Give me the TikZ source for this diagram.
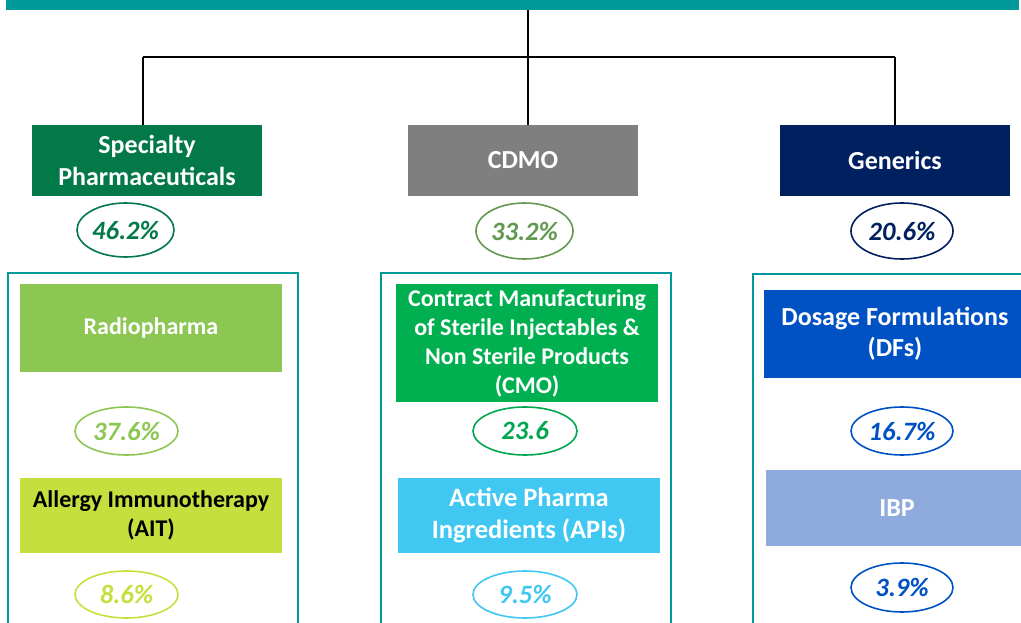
\documentclass[tikz,border=0pt]{standalone}
\usepackage{fontspec}
\setmainfont{Carlito}
\usetikzlibrary{shapes.geometric}
\definecolor{teal1}{HTML}{009999}
\definecolor{spec}{HTML}{037849}
\definecolor{cdmo}{HTML}{7F7F7F}
\definecolor{cdmot}{HTML}{629850}
\definecolor{gen}{HTML}{002060}
\definecolor{radio}{HTML}{8CC653}
\definecolor{ait}{HTML}{C5E03E}
\definecolor{cmo}{HTML}{00B050}
\definecolor{cmot}{HTML}{00A650}
\definecolor{api}{HTML}{40C8F2}
\definecolor{df}{HTML}{0052C4}
\definecolor{ibp}{HTML}{8FAADC}
\tikzset{
  box/.style={rectangle, inner sep=0pt, align=center, text=white,
    font=\fontsize{24}{29}\selectfont\bfseries},
  bigbox/.style={box, font=\fontsize{26}{31.5}\selectfont\bfseries},
  pct/.style={ellipse, draw=#1, text=#1, line width=1.6pt, inner sep=0pt,
    minimum width=100pt, minimum height=50pt,
    font=\fontsize{26.5}{28}\selectfont\bfseries\itshape},
  conn/.style={draw=black, line width=2pt},
  frame/.style={draw=teal1, line width=1.6pt}
}
\begin{document}
\begin{tikzpicture}[x=1pt,y=-1pt]
\useasboundingbox (0,0) rectangle (1021,623);
\clip (0,0) rectangle (1021,623);
% top bar
\node[rectangle, fill=teal1, inner sep=0pt, minimum width=1013pt, minimum height=10pt] (bar) at (512.5,5) {};
% top level
\node[bigbox, fill=spec, minimum width=230pt, minimum height=71pt, font=\fontsize{26}{32}\selectfont\bfseries] (sp) at (147,160.5) {Specialty\\Pharmaceuticals};
\node[bigbox, fill=cdmo, minimum width=230pt, minimum height=71pt] (cd) at (523,160.5) {CDMO};
\node[bigbox, fill=gen, minimum width=230pt, minimum height=71pt] (ge) at (895,160.5) {Generics};
% connectors
\coordinate (jm) at (528,57);
\coordinate (jl) at (143,57);
\coordinate (jr) at (895,57);
\draw[conn] (bar.south -| jm) -- (jm |- cd.north);
\draw[conn] (jl) -- (jr);
\draw[conn] (jl) -- (jl |- sp.north);
\draw[conn] (jr) -- (jr |- ge.north);
% top percentages
\node[pct=spec, minimum width=97pt, minimum height=54pt] (p1) at (125.5,230) {46.2\%};
\node[pct=cdmot, minimum width=97pt, minimum height=56pt] (p2) at (524.5,231) {33.2\%};
\node[pct=gen, minimum width=102pt, minimum height=56pt] (p3) at (902,231) {20.6\%};
% frames
\draw[frame] (8,640) -- (8,273) -- (298,273) -- (298,640);
\draw[frame] (381,640) -- (381,273) -- (671,273) -- (671,640);
\draw[frame] (753,640) -- (753,274) -- (1030,274);
% left column
\node[box, fill=radio, minimum width=262pt, minimum height=88pt] (ra) at (151,328) {Radiopharma};
\node[pct=radio, minimum width=103pt, minimum height=48pt] (p4) at (126.5,431) {37.6\%};
\node[box, fill=ait, text=black, minimum width=262pt, minimum height=75pt] (ai) at (151,515.5) {Allergy Immunotherapy\\(AIT)};
\node[pct=ait, minimum width=103pt, minimum height=47pt] (p5) at (126.5,594.5) {8.6\%};
% middle column
\node[box, fill=cmo, minimum width=262pt, minimum height=118pt] (cm) at (527,343) {Contract Manufacturing\\of Sterile Injectables \&\\Non Sterile Products\\(CMO)};
\node[pct=cmot, minimum width=104pt, minimum height=48pt] (p6) at (525,431) {23.6};
\node[bigbox, fill=api, minimum width=262pt, minimum height=75pt, font=\fontsize{26.5}{32}\selectfont\bfseries] (ap) at (529,515.5) {Active Pharma\\Ingredients (APIs)};
\node[pct=api, minimum width=104pt, minimum height=47pt] (p7) at (525,594.5) {9.5\%};
% right column
\node[bigbox, fill=df, minimum width=262pt, minimum height=88pt] (dfn) at (895,334) {Dosage Formulations\\(DFs)};
\node[pct=df, minimum width=102pt, minimum height=48pt] (p8) at (902,431) {16.7\%};
\node[bigbox, fill=ibp, minimum width=262pt, minimum height=76pt] (ib) at (897,508) {IBP};
\node[pct=df, minimum width=102pt, minimum height=49pt] (p9) at (902,587.5) {3.9\%};
\end{tikzpicture}
\end{document}
